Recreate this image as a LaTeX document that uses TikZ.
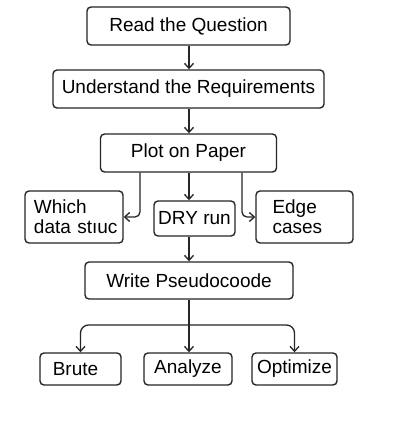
\documentclass[tikz,border=0pt]{standalone}
\usepackage{fontspec}
\setmainfont{Liberation Sans}
\usetikzlibrary{arrows.meta}
\begin{document}
\begin{tikzpicture}[x=1pt,y=-1pt,
  box/.style={draw=black!85, line width=1.4pt, rounded corners=4pt, inner sep=0pt, font=\fontsize{19}{20}\selectfont, align=left},
  arr/.style={draw=black!85, line width=1.3pt, -{Straight Barb[length=5pt,width=9pt]}}]
\useasboundingbox (0,0) rectangle (408,423);
\fill[white] (0,0) rectangle (408,423);
\node[box, minimum width=203pt, minimum height=38pt] (read) at (188.5,26) {Read the Question};
\node[box, minimum width=271pt, minimum height=38pt] (under) at (188.5,89) {Understand the Requirements};
\node[box, minimum width=176pt, minimum height=38pt] (plot) at (188.5,153) {Plot on Paper};
\node[box, minimum width=98pt, minimum height=52pt, text width=80pt] (which) at (74,217) {Which\\\mbox{data stıuc}};
\node[box, minimum width=81pt, minimum height=35pt] (dry) at (194.5,218.5) {DRY run};
\node[box, minimum width=97pt, minimum height=52pt, text width=64pt] (edge) at (304.5,217) {Edge\\cases};
\node[box, minimum width=208pt, minimum height=37pt] (write) at (189,280.5) {Write Pseudocoode};
\node[box, minimum width=81pt, minimum height=32pt] (brute) at (80.5,369) {Brute\hspace{10pt}};
\node[box, minimum width=88pt, minimum height=32pt] (analyze) at (188,369) {Analyze};
\node[box, minimum width=85pt, minimum height=32pt] (opt) at (294.5,369) {Optimize};
\draw[arr] (read.south -| 189,0) -- (under.north -| 189,0);
\draw[arr] (under.south -| 189,0) -- (plot.north -| 189,0);
\draw[arr] (plot.south -| 189,0) -- (dry.north -| 189,0);
\draw[arr, rounded corners=5pt] (plot.south -| 140,0) |- (which.east);
\draw[arr, rounded corners=5pt] (plot.south -| 242,0) |- (edge.west);
\draw[arr] (dry.south -| 189,0) -- (write.north -| 189,0);
\draw[arr] (write.south -| 189,0) -- (analyze.north -| 189,0);
\coordinate (split) at (189,325);
\draw[arr, rounded corners=8pt] (split) -| (brute.north);
\draw[arr, rounded corners=8pt] (split) -| (opt.north);
\end{tikzpicture}
\end{document}
